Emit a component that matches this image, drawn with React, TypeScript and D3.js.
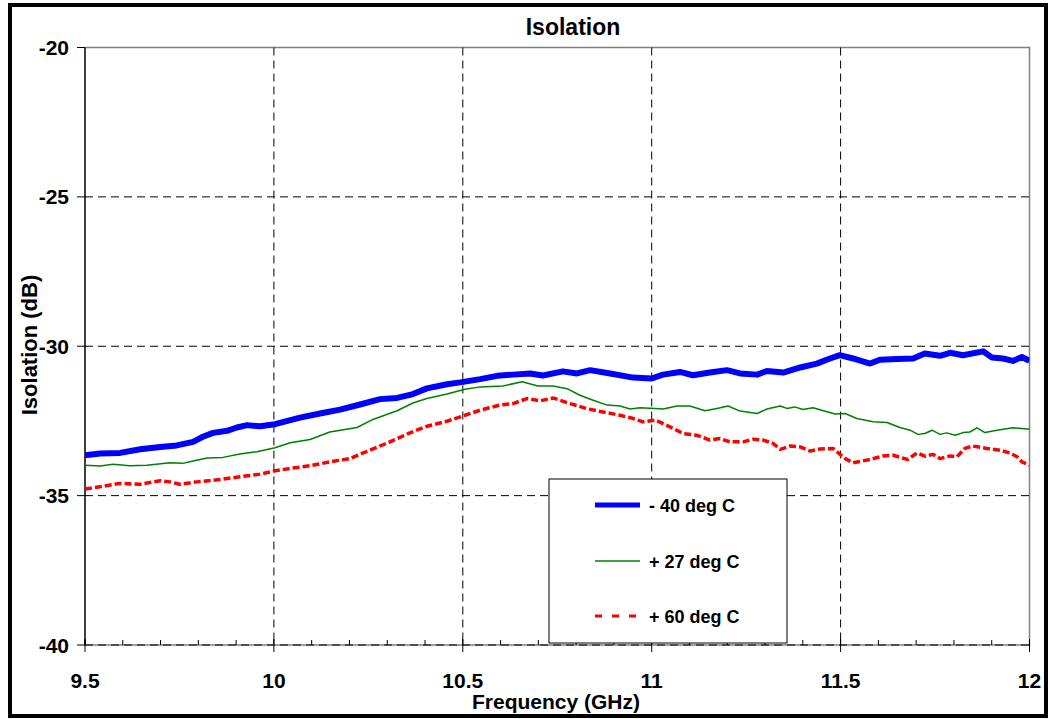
import React from "react";
import * as d3 from "d3";

const xTicks = [9.5, 10, 10.5, 11, 11.5, 12];
const yTicks = [-20, -25, -30, -35, -40];
const xTickLabels = ["9.5", "10", "10.5", "11", "11.5", "12"];
const yTickLabels = ["-20", "-25", "-30", "-35", "-40"];

const seriesNames = ["- 40 deg C", "+ 27 deg C", "+ 60 deg C"];

const freqM40 = [9.5, 9.54, 9.593, 9.646, 9.699, 9.743, 9.786, 9.812, 9.839, 9.876, 9.902, 9.929, 9.963, 10.003, 10.069, 10.122, 10.175, 10.228, 10.281, 10.326, 10.368, 10.405, 10.458, 10.493, 10.546, 10.591, 10.633, 10.678, 10.712, 10.765, 10.802, 10.837, 10.89, 10.951, 11.0, 11.03, 11.075, 11.109, 11.154, 11.199, 11.234, 11.279, 11.305, 11.348, 11.393, 11.437, 11.472, 11.498, 11.533, 11.578, 11.604, 11.649, 11.692, 11.723, 11.763, 11.79, 11.824, 11.877, 11.901, 11.93, 11.956, 11.98, 12.0];
const isoM40 = [-33.65, -33.59, -33.57, -33.45, -33.37, -33.32, -33.2, -33.03, -32.9, -32.83, -32.72, -32.64, -32.68, -32.61, -32.39, -32.25, -32.12, -31.95, -31.77, -31.73, -31.6, -31.41, -31.27, -31.21, -31.1, -30.99, -30.95, -30.91, -30.98, -30.84, -30.91, -30.8, -30.91, -31.05, -31.08, -30.95, -30.86, -30.97, -30.88, -30.8, -30.91, -30.95, -30.83, -30.88, -30.71, -30.58, -30.41, -30.3, -30.41, -30.58, -30.45, -30.43, -30.41, -30.24, -30.32, -30.22, -30.3, -30.17, -30.38, -30.41, -30.49, -30.36, -30.49];

const freqP27 = [9.5, 9.54, 9.574, 9.619, 9.664, 9.725, 9.759, 9.786, 9.823, 9.865, 9.91, 9.955, 10.003, 10.043, 10.096, 10.148, 10.22, 10.262, 10.326, 10.368, 10.405, 10.458, 10.506, 10.546, 10.606, 10.657, 10.699, 10.739, 10.776, 10.81, 10.845, 10.882, 10.916, 10.943, 10.969, 11.009, 11.03, 11.067, 11.101, 11.141, 11.173, 11.202, 11.234, 11.279, 11.305, 11.34, 11.358, 11.379, 11.4, 11.427, 11.485, 11.512, 11.543, 11.586, 11.623, 11.657, 11.684, 11.705, 11.723, 11.742, 11.763, 11.781, 11.803, 11.824, 11.842, 11.861, 11.882, 11.914, 11.956, 12.0];
const isoP27 = [-33.98, -34.01, -33.95, -34.0, -33.98, -33.9, -33.92, -33.84, -33.74, -33.72, -33.61, -33.53, -33.4, -33.23, -33.12, -32.87, -32.72, -32.45, -32.16, -31.9, -31.75, -31.6, -31.44, -31.36, -31.33, -31.19, -31.33, -31.33, -31.42, -31.64, -31.81, -31.97, -32.0, -32.1, -32.06, -32.08, -32.1, -32.0, -32.0, -32.16, -32.08, -32.0, -32.17, -32.25, -32.1, -32.0, -32.08, -32.03, -32.12, -32.06, -32.27, -32.25, -32.42, -32.53, -32.55, -32.72, -32.81, -32.95, -32.92, -32.81, -32.95, -32.9, -32.98, -32.89, -32.87, -32.73, -32.89, -32.81, -32.73, -32.78];

const freqP60 = [9.5, 9.54, 9.593, 9.646, 9.699, 9.725, 9.751, 9.796, 9.857, 9.91, 9.963, 10.003, 10.043, 10.096, 10.148, 10.201, 10.254, 10.307, 10.36, 10.405, 10.458, 10.506, 10.546, 10.598, 10.633, 10.67, 10.704, 10.739, 10.784, 10.829, 10.871, 10.916, 10.951, 10.977, 11.009, 11.03, 11.057, 11.083, 11.12, 11.154, 11.181, 11.207, 11.242, 11.268, 11.295, 11.321, 11.34, 11.366, 11.393, 11.419, 11.445, 11.48, 11.512, 11.533, 11.578, 11.612, 11.639, 11.678, 11.702, 11.723, 11.745, 11.763, 11.79, 11.808, 11.829, 11.85, 11.887, 11.922, 11.948, 11.967, 11.98, 12.0];
const isoP60 = [-34.78, -34.7, -34.59, -34.62, -34.5, -34.54, -34.62, -34.54, -34.46, -34.37, -34.28, -34.17, -34.09, -34.0, -33.87, -33.76, -33.48, -33.2, -32.9, -32.68, -32.51, -32.31, -32.14, -31.97, -31.92, -31.75, -31.83, -31.73, -31.92, -32.09, -32.2, -32.31, -32.42, -32.53, -32.47, -32.59, -32.75, -32.92, -32.98, -33.14, -33.09, -33.2, -33.2, -33.11, -33.14, -33.25, -33.45, -33.34, -33.37, -33.51, -33.44, -33.42, -33.76, -33.9, -33.79, -33.67, -33.65, -33.79, -33.57, -33.68, -33.62, -33.76, -33.67, -33.7, -33.42, -33.34, -33.42, -33.48, -33.57, -33.7, -33.87, -33.98];

const FONT = "'Liberation Sans', Arial, sans-serif";

export default function App() {
  const W = 1050, H = 719;
  const L = 85, R = 1029.5, T = 47.5, B = 645;
  const x = d3.scaleLinear().domain([9.5, 12]).range([L, R]);
  const y = d3.scaleLinear().domain([-40, -20]).range([B, T]);

  const mk = (fs: number[], vs: number[]) =>
    d3.line<number>().x((_, i) => x(fs[i])).y((v) => y(v))(vs) || "";

  const series = [
    { d: mk(freqM40, isoM40), color: "#0000FF", w: 6, dash: undefined as string | undefined, ldash: undefined as string | undefined, lw: 5 },
    { d: mk(freqP27, isoP27), color: "#008000", w: 1.5, dash: undefined, ldash: undefined, lw: 1.5 },
    { d: mk(freqP60, isoP60), color: "#FF0000", w: 3.5, dash: "7,3", ldash: "7,10", lw: 3 },
  ];

  const minor = d3.range(0, 26).map((i) => 9.5 + i * 0.1);

  const legY = [505, 561, 616];

  return (
    <svg width={W} height={H} style={{ position: "absolute", left: 0, top: 0, background: "#fff" }} fontFamily={FONT}>
      <rect x={0} y={0} width={W} height={H} fill="#fff" />
      <rect x={10} y={5} width={1036} height={711} fill="none" stroke="#000" strokeWidth={4} />
      <text x={573} y={35} textAnchor="middle" fontSize={23} fontWeight="bold">Isolation</text>

      {/* plot border */}
      <rect x={L} y={T} width={R - L} height={B - T} fill="#fff" stroke="#808080" strokeWidth={1.5} />

      {/* grid */}
      {yTicks.filter((t) => t !== -20).map((t) => (
        <line key={"gy" + t} x1={L} x2={R} y1={y(t)} y2={y(t)} stroke="#000" strokeWidth={1} strokeDasharray="8,5" />
      ))}
      {xTicks.filter((t) => t !== 9.5 && t !== 12).map((t) => (
        <line key={"gx" + t} x1={x(t)} x2={x(t)} y1={T} y2={B} stroke="#000" strokeWidth={1} strokeDasharray="8,5" />
      ))}

      {/* y axis */}
      <line x1={L} x2={L} y1={T} y2={B} stroke="#000" strokeWidth={1.2} />
      {yTicks.map((t, i) => (
        <g key={"yt" + t}>
          <line x1={L - 8} x2={L} y1={y(t)} y2={y(t)} stroke="#000" strokeWidth={1} />
          <text x={69} y={y(t) + 7.5} textAnchor="end" fontSize={21} fontWeight="bold">{yTickLabels[i]}</text>
        </g>
      ))}

      {/* x axis ticks */}
      {minor.map((t, i) => (
        <line key={"mt" + i} x1={x(t)} x2={x(t)} y1={B - 5} y2={B} stroke="#000" strokeWidth={1} />
      ))}
      {xTicks.map((t, i) => (
        <g key={"xt" + t}>
          <line x1={x(t)} x2={x(t)} y1={B - 6} y2={B + 7} stroke="#000" strokeWidth={1} />
          <text x={x(t)} y={687.5} textAnchor="middle" fontSize={21} fontWeight="bold">{xTickLabels[i]}</text>
        </g>
      ))}

      <text x={556} y={709} textAnchor="middle" fontSize={21} fontWeight="bold">Frequency (GHz)</text>
      <text transform="translate(37,345) rotate(-90)" textAnchor="middle" fontSize={22} fontWeight="bold">Isolation (dB)</text>

      {/* series */}
      <g clipPath="url(#clip)">
        {series.map((s, i) => (
          <path key={"s" + i} d={s.d} fill="none" stroke={s.color} strokeWidth={s.w} strokeDasharray={s.dash} strokeLinejoin="round" />
        ))}
      </g>
      <defs>
        <clipPath id="clip">
          <rect x={L} y={T - 5} width={R - L} height={B - T + 10} />
        </clipPath>
      </defs>

      {/* legend */}
      <rect x={549} y={479} width={238} height={164} fill="#fff" stroke="#000" strokeWidth={1} />
      {series.map((s, i) => (
        <g key={"lg" + i}>
          <line x1={595} x2={640} y1={legY[i]} y2={legY[i]} stroke={s.color} strokeWidth={s.lw} strokeDasharray={s.ldash} />
          <text x={649} y={legY[i] + 6.5} fontSize={18} fontWeight="bold">{seriesNames[i]}</text>
        </g>
      ))}
    </svg>
  );
}
